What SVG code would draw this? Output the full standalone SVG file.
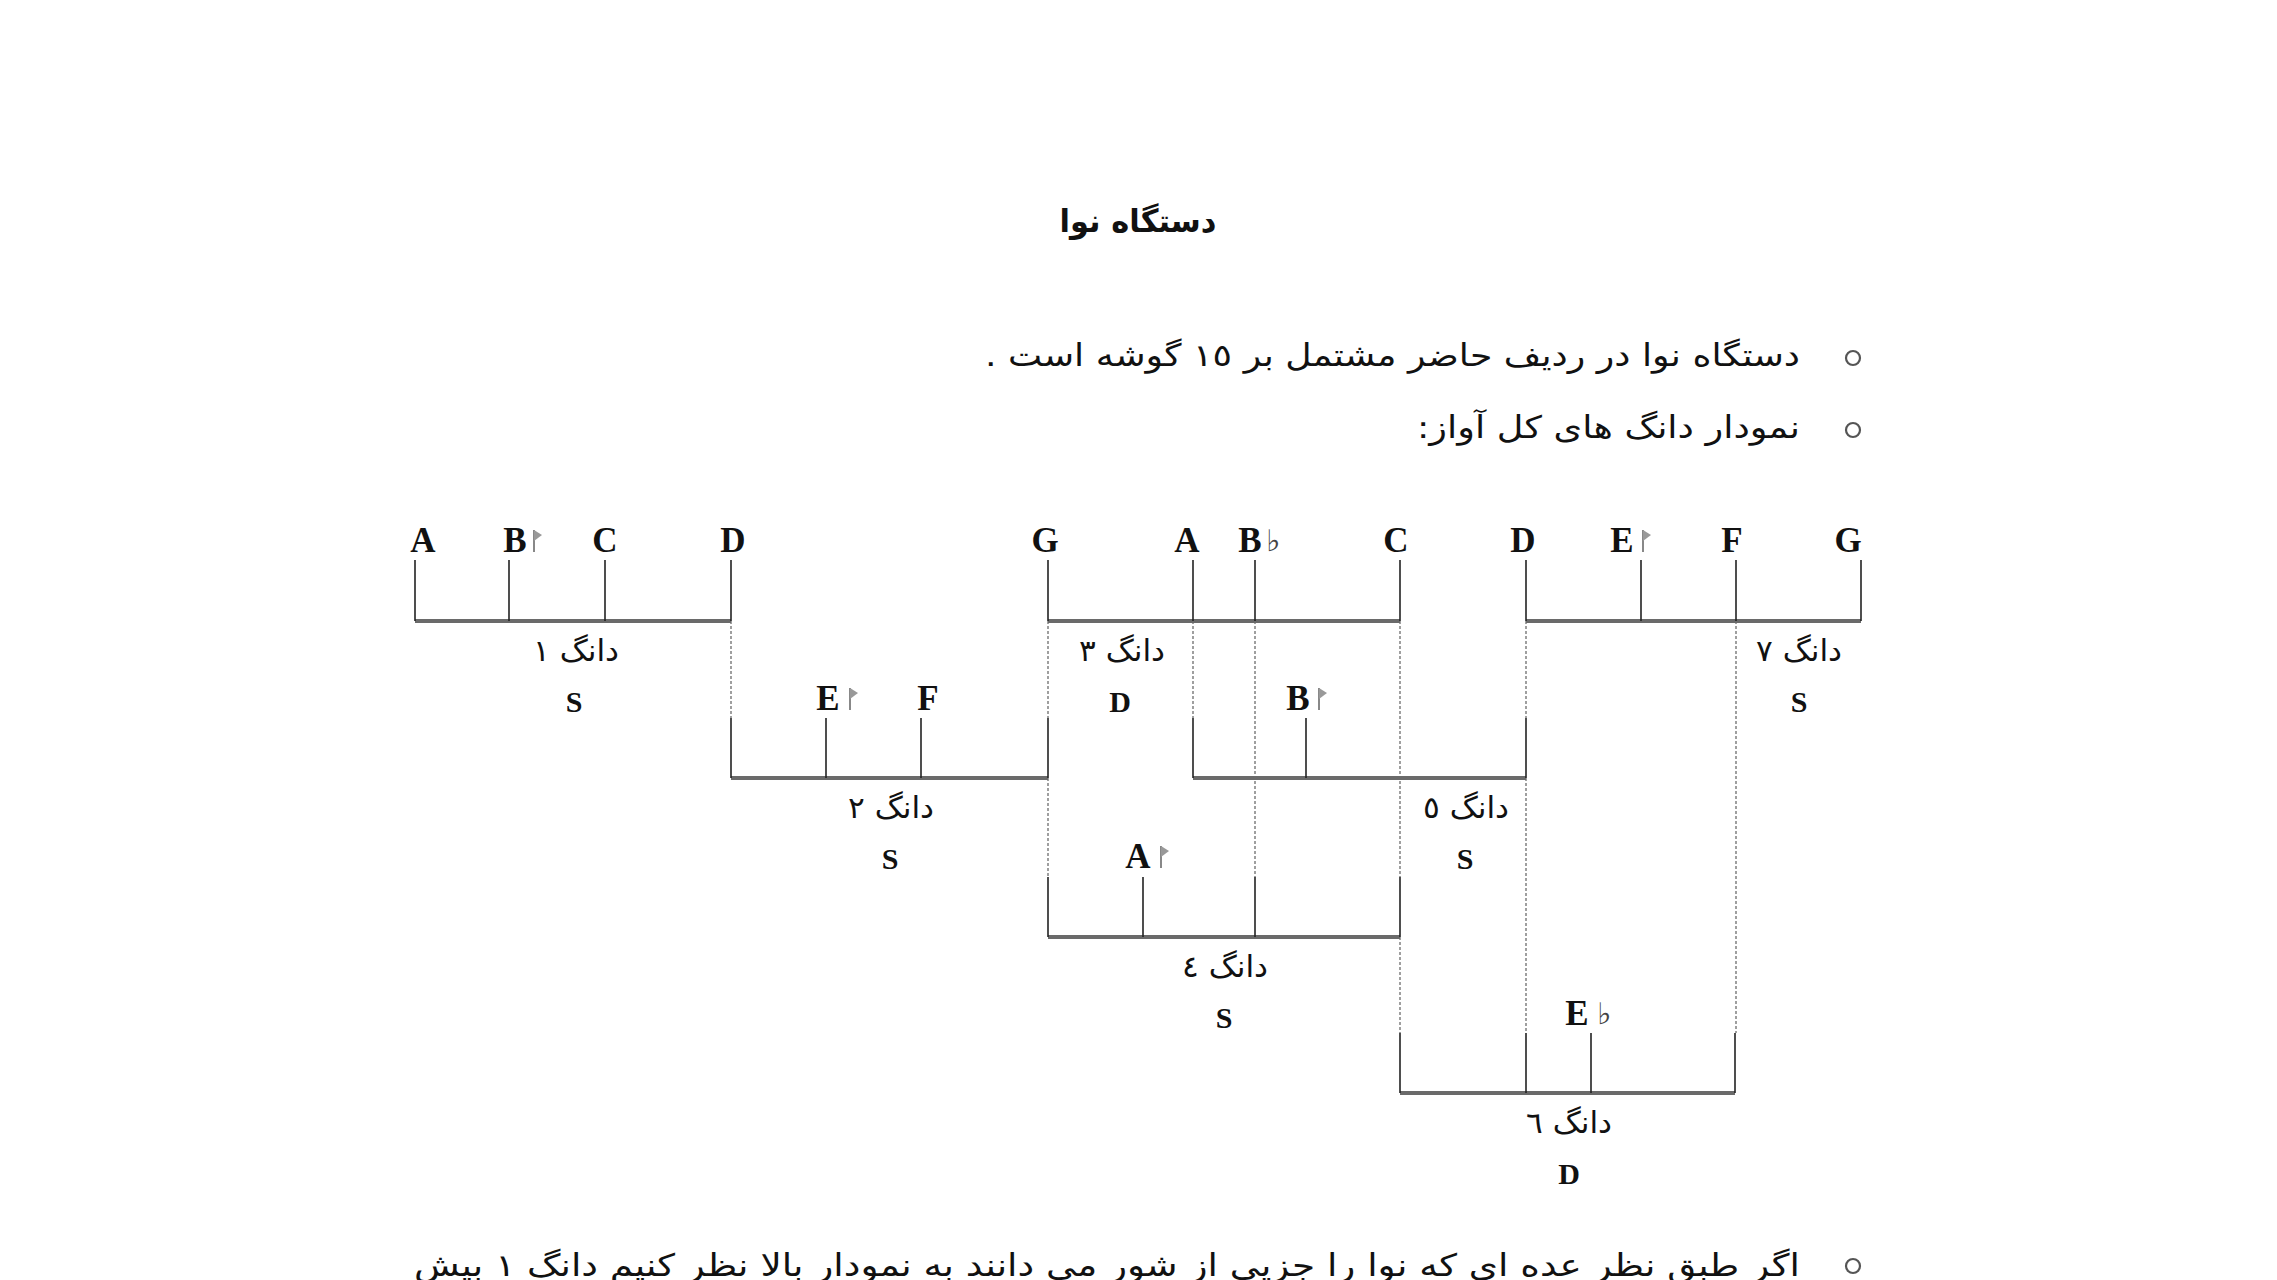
<svg xmlns="http://www.w3.org/2000/svg" width="2277" height="1280" viewBox="0 0 2277 1280">
<defs>
<style>
.h{stroke:#6a6a6a;stroke-width:4;fill:none}
.v{stroke:#222;stroke-width:1.6;fill:none}
.d{stroke:#777;stroke-width:1.4;stroke-dasharray:3 2;fill:none}
.n{font-family:"Liberation Serif",serif;font-weight:bold;font-size:35px;fill:#111;text-anchor:middle}
.s{font-family:"Liberation Serif",serif;font-weight:bold;font-size:30px;fill:#111;text-anchor:middle}
.fl{font-family:"DejaVu Sans",sans-serif;font-size:30px;fill:#444}
.lbl{font-family:"DejaVu Sans",sans-serif;font-size:30px;fill:#111;text-anchor:middle}
.fa{font-family:"DejaVu Sans",sans-serif;font-size:31px;fill:#111}
.bul{fill:none;stroke:#555;stroke-width:2.2}
</style>
<g id="koron">
<line x1="2" y1="0" x2="2" y2="22" stroke="#888" stroke-width="2"/>
<path d="M2,0 L10,5 L2,11 Z" fill="#999"/>
</g>
</defs>
<rect width="2277" height="1280" fill="#fff"/>

<g id="title">
<text x="1138" y="232" class="fa" style="font-weight:bold;font-size:32px" text-anchor="middle" direction="rtl" textLength="157" lengthAdjust="spacingAndGlyphs">دستگاه نوا</text>
</g>

<g id="bullets">
<circle class="bul" cx="1853" cy="358" r="7"/>
<text x="1800" y="366" class="fa" direction="rtl" text-anchor="start" textLength="815" lengthAdjust="spacingAndGlyphs">دستگاه نوا در ردیف حاضر مشتمل بر ١٥ گوشه است .</text>
<circle class="bul" cx="1853" cy="430" r="7"/>
<text x="1800" y="438" class="fa" direction="rtl" text-anchor="start" textLength="383" lengthAdjust="spacingAndGlyphs">نمودار دانگ های کل آواز:</text>
<circle class="bul" cx="1853" cy="1266" r="7"/>
<text x="1800" y="1276" class="fa" direction="rtl" text-anchor="start" textLength="1386" lengthAdjust="spacingAndGlyphs">اگر طبق نظر عده ای که نوا را جزیی از شور می دانند به نمودار بالا نظر کنیم دانگ ١ بیش</text>
</g>

<g id="connectors">
<line class="d" x1="731" y1="621" x2="731" y2="718"/>
<line class="d" x1="1048" y1="621" x2="1048" y2="718"/>
<line class="d" x1="1048" y1="778" x2="1048" y2="877"/>
<line class="d" x1="1193" y1="621" x2="1193" y2="718"/>
<line class="d" x1="1255" y1="621" x2="1255" y2="877"/>
<line class="d" x1="1400" y1="621" x2="1400" y2="877"/>
<line class="d" x1="1400" y1="937" x2="1400" y2="1033"/>
<line class="d" x1="1526" y1="621" x2="1526" y2="718"/>
<line class="d" x1="1526" y1="778" x2="1526" y2="1033"/>
<line class="d" x1="1736" y1="621" x2="1736" y2="1033"/>
</g>

<g id="dang1">
<line class="h" x1="415" y1="621" x2="731" y2="621"/>
<line class="v" x1="415" y1="560" x2="415" y2="621"/>
<line class="v" x1="509" y1="560" x2="509" y2="621"/>
<line class="v" x1="605" y1="560" x2="605" y2="621"/>
<line class="v" x1="731" y1="560" x2="731" y2="621"/>
<text class="n" x="423" y="552">A</text>
<text class="n" x="515" y="552">B</text>
<use href="#koron" x="532" y="530"/>
<text class="n" x="605" y="552">C</text>
<text class="n" x="733" y="552">D</text>
<text class="lbl" x="576" y="661" textLength="86" lengthAdjust="spacingAndGlyphs">دانگ ١</text>
<text class="s" x="574" y="712">S</text>
</g>

<g id="dang3">
<line class="h" x1="1048" y1="621" x2="1400" y2="621"/>
<line class="v" x1="1048" y1="560" x2="1048" y2="621"/>
<line class="v" x1="1193" y1="560" x2="1193" y2="621"/>
<line class="v" x1="1255" y1="560" x2="1255" y2="621"/>
<line class="v" x1="1400" y1="560" x2="1400" y2="621"/>
<text class="n" x="1045" y="552">G</text>
<text class="n" x="1187" y="552">A</text>
<text class="n" x="1250" y="552">B</text>
<text class="fl" x="1266" y="551">♭</text>
<text class="n" x="1396" y="552">C</text>
<text class="lbl" x="1122" y="661" textLength="86" lengthAdjust="spacingAndGlyphs">دانگ ٣</text>
<text class="s" x="1120" y="712">D</text>
</g>

<g id="dang7">
<line class="h" x1="1526" y1="621" x2="1861" y2="621"/>
<line class="v" x1="1526" y1="560" x2="1526" y2="621"/>
<line class="v" x1="1641" y1="560" x2="1641" y2="621"/>
<line class="v" x1="1736" y1="560" x2="1736" y2="621"/>
<line class="v" x1="1861" y1="560" x2="1861" y2="621"/>
<text class="n" x="1523" y="552">D</text>
<text class="n" x="1622" y="552">E</text>
<use href="#koron" x="1641" y="530"/>
<text class="n" x="1732" y="552">F</text>
<text class="n" x="1848" y="552">G</text>
<text class="lbl" x="1799" y="661" textLength="86" lengthAdjust="spacingAndGlyphs">دانگ ٧</text>
<text class="s" x="1799" y="712">S</text>
</g>

<g id="dang2">
<line class="h" x1="731" y1="778" x2="1048" y2="778"/>
<line class="v" x1="731" y1="718" x2="731" y2="778"/>
<line class="v" x1="826" y1="718" x2="826" y2="778"/>
<line class="v" x1="921" y1="718" x2="921" y2="778"/>
<line class="v" x1="1048" y1="718" x2="1048" y2="778"/>
<text class="n" x="828" y="710">E</text>
<use href="#koron" x="848" y="688"/>
<text class="n" x="928" y="710">F</text>
<text class="lbl" x="891" y="818" textLength="86" lengthAdjust="spacingAndGlyphs">دانگ ٢</text>
<text class="s" x="890" y="869">S</text>
</g>

<g id="dang5">
<line class="h" x1="1193" y1="778" x2="1526" y2="778"/>
<line class="v" x1="1193" y1="718" x2="1193" y2="778"/>
<line class="v" x1="1306" y1="718" x2="1306" y2="778"/>
<line class="v" x1="1526" y1="718" x2="1526" y2="778"/>
<text class="n" x="1298" y="710">B</text>
<use href="#koron" x="1317" y="688"/>
<text class="lbl" x="1466" y="818" textLength="86" lengthAdjust="spacingAndGlyphs">دانگ ٥</text>
<text class="s" x="1465" y="869">S</text>
</g>

<g id="dang4">
<line class="h" x1="1048" y1="937" x2="1400" y2="937"/>
<line class="v" x1="1048" y1="877" x2="1048" y2="937"/>
<line class="v" x1="1143" y1="877" x2="1143" y2="937"/>
<line class="v" x1="1255" y1="877" x2="1255" y2="937"/>
<line class="v" x1="1400" y1="877" x2="1400" y2="937"/>
<text class="n" x="1138" y="868">A</text>
<use href="#koron" x="1159" y="846"/>
<text class="lbl" x="1225" y="977" textLength="86" lengthAdjust="spacingAndGlyphs">دانگ ٤</text>
<text class="s" x="1224" y="1028">S</text>
</g>

<g id="dang6">
<line class="h" x1="1400" y1="1093" x2="1735" y2="1093"/>
<line class="v" x1="1400" y1="1033" x2="1400" y2="1093"/>
<line class="v" x1="1526" y1="1033" x2="1526" y2="1093"/>
<line class="v" x1="1591" y1="1033" x2="1591" y2="1093"/>
<line class="v" x1="1735" y1="1033" x2="1735" y2="1093"/>
<text class="n" x="1577" y="1025">E</text>
<text class="fl" x="1597" y="1024">♭</text>
<text class="lbl" x="1569" y="1133" textLength="86" lengthAdjust="spacingAndGlyphs">دانگ ٦</text>
<text class="s" x="1569" y="1184">D</text>
</g>
</svg>
